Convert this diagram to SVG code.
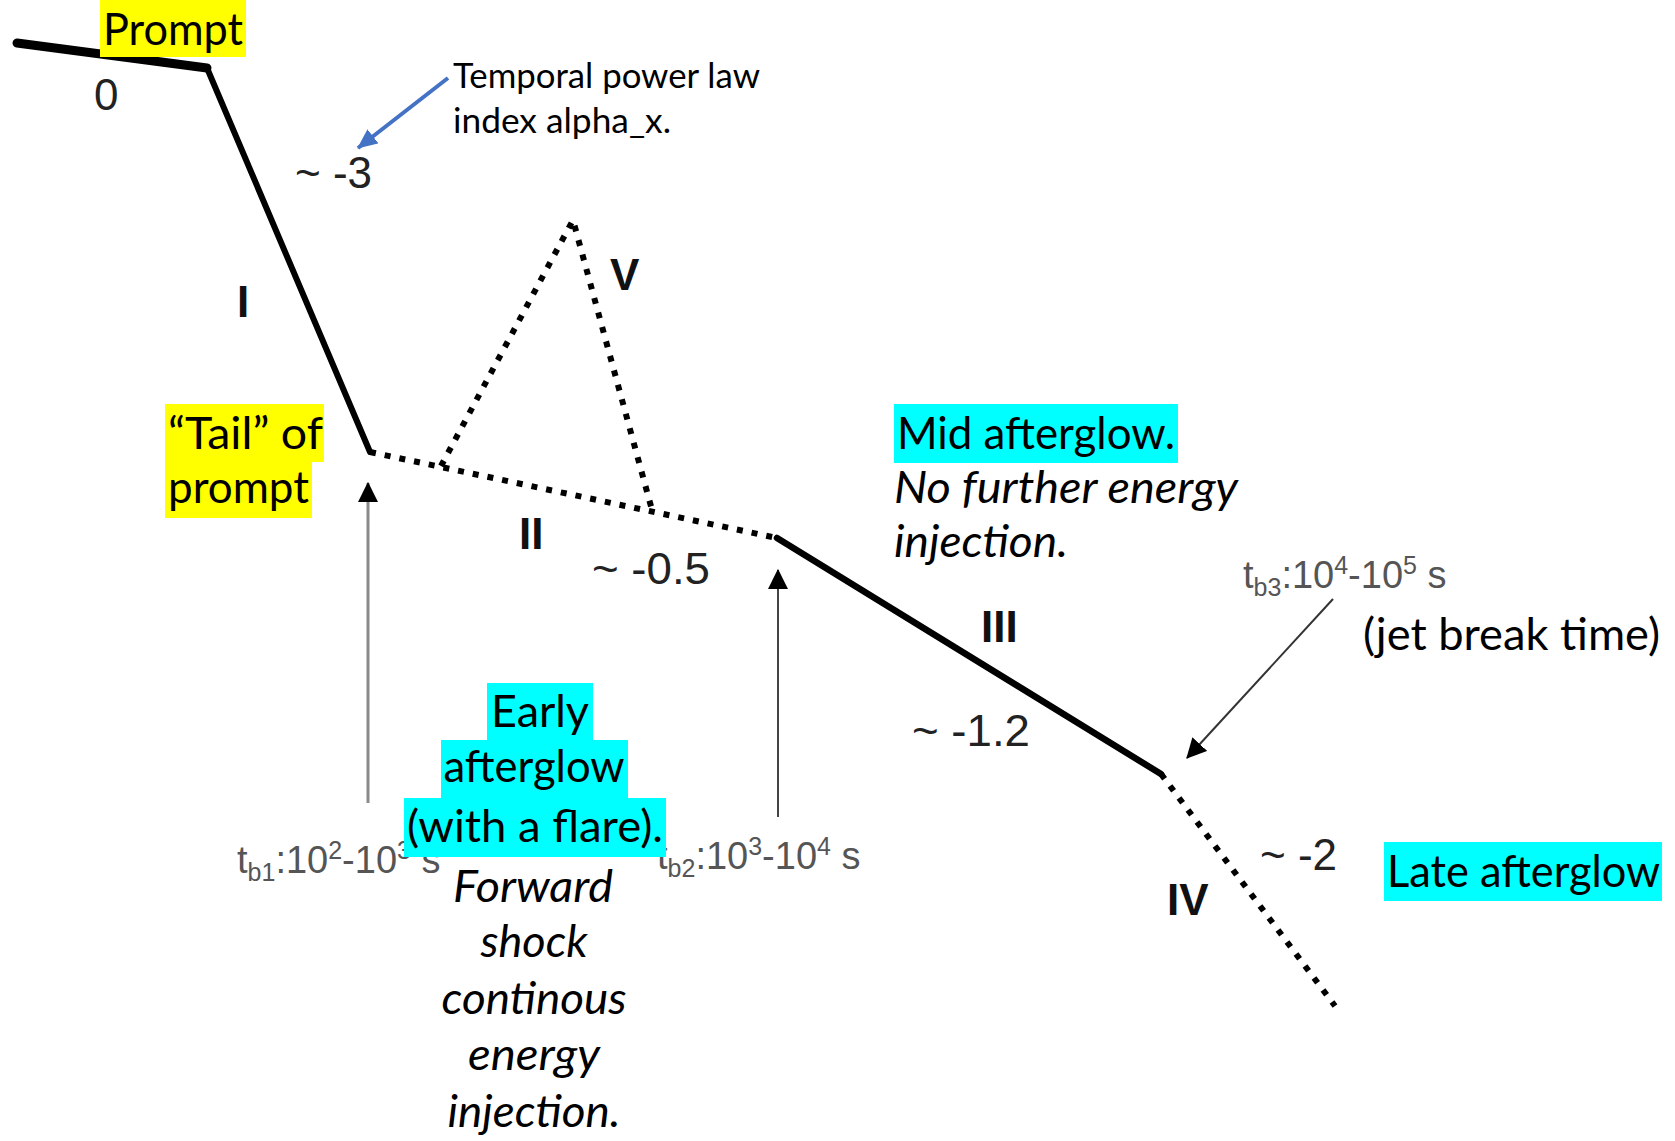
<svg xmlns="http://www.w3.org/2000/svg" width="1675" height="1141" viewBox="0 0 1675 1141">
<style>
  .cal { font-family: Lato, "Open Sans", "Noto Sans", sans-serif; font-size: 44px; fill: #000; }
  .calS { font-family: Lato, "Open Sans", "Noto Sans", sans-serif; font-size: 35px; fill: #000; }
  .it { font-style: italic; }
  .ar { font-family: "Liberation Sans", Arial, sans-serif; font-size: 44px; fill: #222; }
  .rom { font-family: "Liberation Sans", Arial, sans-serif; font-size: 44px; font-weight: bold; fill: #111; }
  .tb { font-family: "Liberation Sans", Arial, sans-serif; font-size: 38px; fill: #555; }
  .ss { font-size: 25px; }
  .yel { fill: #ffff00; }
  .cyan { fill: #00ffff; }
  .solid { fill: none; stroke: #000; stroke-linecap: round; stroke-linejoin: round; }
  .dot { fill: none; stroke: #000; stroke-width: 6; stroke-dasharray: 6 9; }
</style>
<defs>
  <marker id="ah" markerUnits="userSpaceOnUse" markerWidth="20" markerHeight="20" viewBox="0 0 18 18" refX="17" refY="9" orient="auto">
    <path d="M0,0 L18,9 L0,18 Z" fill="#000"/>
  </marker>
  <marker id="ahb" markerUnits="userSpaceOnUse" markerWidth="20" markerHeight="18" viewBox="0 0 20 18" refX="19" refY="9" orient="auto">
    <path d="M0,0 L20,9 L0,18 Z" fill="#4472C4"/>
  </marker>
</defs>
<rect width="1675" height="1141" fill="#fff"/>

<g id="light-curve">
  <line class="solid" x1="17" y1="43" x2="207" y2="68" stroke-width="9"/>
  <polyline class="solid" points="207,68 370,452" stroke-width="6"/>
  <line class="dot" x1="370" y1="452" x2="777" y2="538"/>
  <polyline class="dot" points="441,466 573,220 652,510"/>
  <line class="solid" x1="777" y1="538" x2="1161" y2="774" stroke-width="6.5"/>
  <line class="dot" x1="1161" y1="774" x2="1335" y2="1006"/>
</g>

<g id="connectors">
  <line x1="448" y1="78" x2="358" y2="148" stroke="#4472C4" stroke-width="4" marker-end="url(#ahb)"/>
  <line x1="368" y1="803" x2="368" y2="483" stroke="#8a8a8a" stroke-width="3" marker-end="url(#ah)"/>
  <line x1="778" y1="817" x2="778" y2="570" stroke="#444" stroke-width="2" marker-end="url(#ah)"/>
  <line x1="1333" y1="599" x2="1187" y2="758" stroke="#333" stroke-width="2" marker-end="url(#ah)"/>
</g>

<g id="prompt">
  <rect class="yel" x="100" y="0" width="146" height="57"/>
  <text class="cal" x="103" y="45" textLength="140" lengthAdjust="spacingAndGlyphs">Prompt</text>
</g>

<g id="tail">
  <rect class="yel" x="165" y="404" width="159" height="58"/>
  <rect class="yel" x="165" y="462" width="147" height="56"/>
  <text class="cal" x="168" y="449" textLength="155" lengthAdjust="spacingAndGlyphs">“Tail” of</text>
  <text class="cal" x="168" y="503" textLength="141" lengthAdjust="spacingAndGlyphs">prompt</text>
</g>

<g id="annotation">
  <text class="calS" x="453" y="88" textLength="307" lengthAdjust="spacingAndGlyphs">Temporal power law</text>
  <text class="calS" x="453" y="133" textLength="218" lengthAdjust="spacingAndGlyphs">index alpha_x.</text>
</g>

<g id="indices">
  <text class="ar" x="94" y="110">0</text>
  <text class="ar" x="295" y="188">~ -3</text>
  <text class="ar" x="592" y="584" textLength="118" lengthAdjust="spacingAndGlyphs">~ -0.5</text>
  <text class="ar" x="912" y="746" textLength="118" lengthAdjust="spacingAndGlyphs">~ -1.2</text>
  <text class="ar" x="1260" y="870">~ -2</text>
</g>

<g id="segments">
  <text class="rom" x="237" y="317">I</text>
  <text class="rom" x="610" y="290">V</text>
  <text class="rom" x="519" y="549">II</text>
  <text class="rom" x="981" y="642">III</text>
  <text class="rom" x="1167" y="915">IV</text>
</g>

<g id="tb1">
  <text class="tb" x="237" y="873">t<tspan class="ss" dy="8">b1</tspan><tspan dy="-8">:10</tspan><tspan class="ss" dy="-14">2</tspan><tspan dy="14">-10</tspan><tspan class="ss" dy="-14">3</tspan><tspan dy="14"> s</tspan></text>
</g>
<g id="tb2">
  <text class="tb" x="657" y="869">t<tspan class="ss" dy="8">b2</tspan><tspan dy="-8">:10</tspan><tspan class="ss" dy="-14">3</tspan><tspan dy="14">-10</tspan><tspan class="ss" dy="-14">4</tspan><tspan dy="14"> s</tspan></text>
</g>
<g id="tb3">
  <text class="tb" x="1243" y="588">t<tspan class="ss" dy="8">b3</tspan><tspan dy="-8">:10</tspan><tspan class="ss" dy="-14">4</tspan><tspan dy="14">-10</tspan><tspan class="ss" dy="-14">5</tspan><tspan dy="14"> s</tspan></text>
  <text class="cal" x="1363" y="650" textLength="297" lengthAdjust="spacingAndGlyphs">(jet break time)</text>
</g>

<g id="early-afterglow">
  <rect class="cyan" x="487" y="683" width="106" height="57"/>
  <rect class="cyan" x="441" y="740" width="187" height="58"/>
  <rect class="cyan" x="404" y="798" width="262" height="59"/>
  <text class="cal" x="540" y="727" text-anchor="middle" textLength="98" lengthAdjust="spacingAndGlyphs">Early</text>
  <text class="cal" x="534" y="782" text-anchor="middle" textLength="181" lengthAdjust="spacingAndGlyphs">afterglow</text>
  <text class="cal" x="535" y="842" text-anchor="middle" textLength="256" lengthAdjust="spacingAndGlyphs">(with a flare).</text>
  <text class="cal it" x="533" y="902" text-anchor="middle" textLength="160" lengthAdjust="spacingAndGlyphs">Forward</text>
  <text class="cal it" x="534" y="957" text-anchor="middle" textLength="107" lengthAdjust="spacingAndGlyphs">shock</text>
  <text class="cal it" x="534" y="1014" text-anchor="middle" textLength="185" lengthAdjust="spacingAndGlyphs">continous</text>
  <text class="cal it" x="534" y="1070" text-anchor="middle" textLength="132" lengthAdjust="spacingAndGlyphs">energy</text>
  <text class="cal it" x="534" y="1127" text-anchor="middle" textLength="173" lengthAdjust="spacingAndGlyphs">injection.</text>
</g>

<g id="mid-afterglow">
  <rect class="cyan" x="894" y="404" width="284" height="59"/>
  <text class="cal" x="897" y="449" textLength="278" lengthAdjust="spacingAndGlyphs">Mid afterglow.</text>
  <text class="cal it" x="894" y="503" textLength="344" lengthAdjust="spacingAndGlyphs">No further energy</text>
  <text class="cal it" x="894" y="557" textLength="174" lengthAdjust="spacingAndGlyphs">injection.</text>
</g>

<g id="late-afterglow">
  <rect class="cyan" x="1384" y="842" width="278" height="59"/>
  <text class="cal" x="1387" y="887" textLength="273" lengthAdjust="spacingAndGlyphs">Late afterglow</text>
</g>
</svg>
